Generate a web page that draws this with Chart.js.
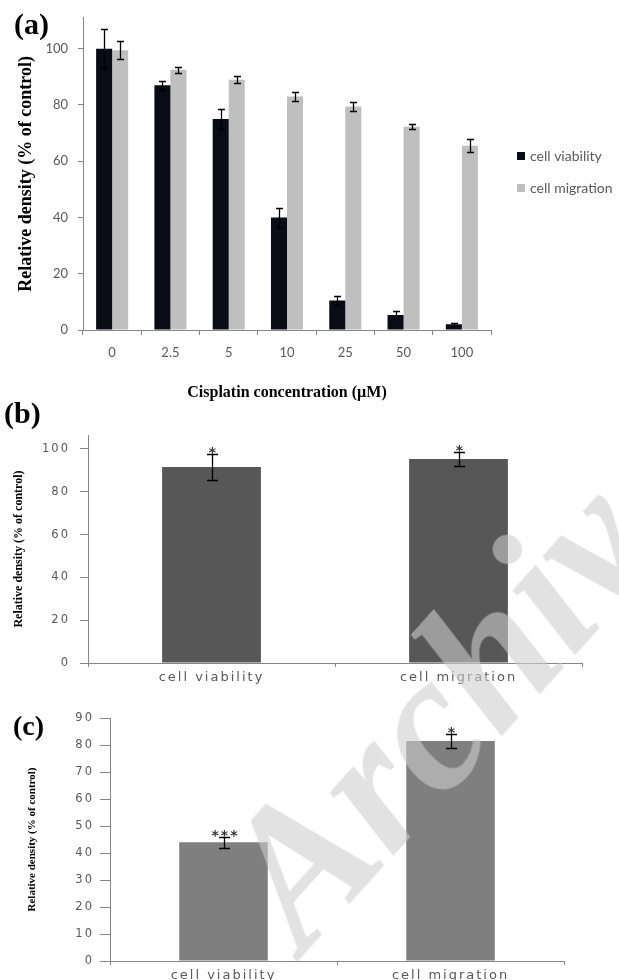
<!DOCTYPE html>
<html>
<head>
<meta charset="utf-8">
<script src="https://cdn.jsdelivr.net/npm/chart.js@4"></script>
<style>
  html, body { margin: 0; padding: 0; background: #fff; }
  body { width: 619px; height: 980px; position: relative; overflow: hidden; }
  .panel { position: absolute; left: 0; width: 619px; }
  .tag { position: absolute; font: bold 30px "Liberation Serif", "Times New Roman", serif; line-height: 30px; color: #000; }
  .watermark {
    position: absolute; left: 304px; top: 955px; white-space: nowrap;
    font: italic bold 194px "Liberation Serif", serif; line-height: 1;
    color: rgba(205, 205, 205, 0.58);
    transform-origin: 0 0; transform: rotate(-48deg) translateY(-162px);
    pointer-events: none;
  }
</style>
</head>
<body>
<div class="panel" style="top:0;height:410px"><canvas id="chartA"></canvas></div>
<div class="panel" style="top:400px;height:290px"><canvas id="chartB"></canvas></div>
<div class="panel" style="top:690px;height:300px"><canvas id="chartC"></canvas></div>
<div class="tag" style="left:14px;top:9px">(a)</div>
<div class="tag" style="left:4px;top:398px">(b)</div>
<div class="tag" style="left:13px;top:711px;font-size:28px">(c)</div>
<div class="watermark">Archive</div>

<script>
// panel (a): dose response
const doses = ['0', '2.5', '5', '10', '25', '50', '100'];
const viability = [100, 87, 75, 40, 10.5, 5.3, 2];
const viabilityErr = [7, 1.5, 3.5, 3.5, 1.5, 1.5, 0.6];
const migration = [99.5, 92.5, 89, 83, 79.5, 72.3, 65.5];
const migrationErr = [3.2, 1, 1.2, 1.5, 1.7, 1, 2.3];

// panel (b) and (c)
const groups = ['cell viability', 'cell migration'];
const valuesB = [91.6, 95.3];
const errB = [6, 3.2];
const sigB = ['*', '*'];
const valuesC = [44, 81.5];
const errC = [2, 2.6];
const sigC = ['***', '*'];

const axisGrey = '#868686';
const labelGrey = '#595959';
const yTitle = 'Relative density (% of control)';

// error bars + significance stars
const errorBars = {
  id: 'errorBars',
  afterDatasetsDraw(chart, args, opts) {
    const { ctx } = chart;
    const y = chart.scales.y;
    ctx.save();
    ctx.strokeStyle = '#000';
    ctx.lineWidth = opts.width;
    chart.data.datasets.forEach((ds, di) => {
      if (!ds.errors) return;
      chart.getDatasetMeta(di).data.forEach((bar, i) => {
        const v = ds.data[i], e = ds.errors[i];
        const top = Math.round(y.getPixelForValue(v + e)) + 0.5;
        const bot = Math.round(y.getPixelForValue(v - e)) + 0.5;
        const x = Math.round(bar.x) + 0.5;
        ctx.beginPath();
        ctx.moveTo(x, top); ctx.lineTo(x, bot);
        ctx.moveTo(x - opts.cap, top); ctx.lineTo(x + opts.cap, top);
        ctx.moveTo(x - opts.cap, bot); ctx.lineTo(x + opts.cap, bot);
        ctx.stroke();
        if (ds.marks && ds.marks[i]) {
          ctx.fillStyle = '#333';
          ctx.font = 'bold 14px "DejaVu Sans"';
          ctx.letterSpacing = '2px';
          ctx.textAlign = 'center';
          ctx.textBaseline = 'alphabetic';
          ctx.fillText(ds.marks[i], x + 1, top + 2);
          ctx.letterSpacing = '0px';
        }
      });
    });
    ctx.restore();
  }
};

// wide lettering on the tick labels of (b) and (c)
const wideTicks = {
  id: 'wideTicks',
  afterDatasetsDraw(chart, args, opts) { chart.ctx.letterSpacing = opts.spacing; },
  afterDraw(chart) { chart.ctx.letterSpacing = '0px'; }
};

// legend to the right of panel (a)
const sideLegend = {
  id: 'sideLegend',
  afterDraw(chart, args, opts) {
    const { ctx } = chart;
    ctx.save();
    ctx.font = opts.font;
    ctx.textBaseline = 'middle';
    ctx.textAlign = 'left';
    chart.data.datasets.forEach((ds, i) => {
      const y = opts.y + i * opts.gap;
      ctx.fillStyle = ds.backgroundColor;
      ctx.fillRect(opts.x, y - opts.box / 2, opts.box, opts.box);
      ctx.fillStyle = labelGrey;
      ctx.fillText(ds.label, opts.x + opts.box + 5, y);
    });
    ctx.restore();
  }
};

const fixSize = (w, h) => (scale) => {
  if (w != null) scale.width = w;
  if (h != null) scale.height = h;
};

const keepStep = (step) => (scale) => {
  scale.ticks = scale.ticks.filter(t => Math.abs(t.value / step - Math.round(t.value / step)) < 1e-6);
};

new Chart(document.getElementById('chartA'), {
  type: 'bar',
  data: {
    labels: doses,
    datasets: [
      { label: 'cell viability', data: viability, errors: viabilityErr, backgroundColor: '#0b0b16' },
      { label: 'cell migration', data: migration, errors: migrationErr, backgroundColor: '#bfbfbf' }
    ]
  },
  options: {
    responsive: true,
    maintainAspectRatio: false,
    animation: false,
    layout: { padding: { top: 15, right: 128, left: 0, bottom: 0 } },
    datasets: { bar: { categoryPercentage: 0.55, barPercentage: 1 } },
    plugins: {
      legend: { display: false },
      tooltip: { enabled: false },
      errorBars: { width: 1.3, cap: 3.5 },
      sideLegend: { x: 517, y: 156, gap: 32, box: 8, font: '14px Lato' }
    },
    scales: {
      x: {
        afterFit: fixSize(null, 80),
        grid: { drawOnChartArea: false, tickLength: 5, color: axisGrey },
        border: { color: axisGrey },
        ticks: { color: labelGrey, font: { family: 'Lato', size: 13 }, padding: 10, maxRotation: 0 },
        title: { display: true, text: 'Cisplatin concentration (\u00b5M)', color: '#000',
          font: { family: 'Liberation Serif', size: 16, weight: 'bold' }, padding: { top: 0, bottom: 8 } }
      },
      y: {
        min: 0, max: 111,
        afterFit: fixSize(83, null),
        afterBuildTicks: keepStep(20),
        grid: { drawOnChartArea: false, tickLength: 5, color: axisGrey },
        border: { color: axisGrey },
        ticks: { stepSize: 20, color: labelGrey, font: { family: 'Lato', size: 13 }, padding: 10 },
        title: { display: true, text: yTitle, color: '#000',
          font: { family: 'Liberation Serif', size: 18, weight: 'bold' }, padding: { top: 16, bottom: 0 } }
      }
    }
  },
  plugins: [errorBars, sideLegend]
});

const smallPanel = (id, values, errs, marks, color, cfg) => new Chart(document.getElementById(id), {
  type: 'bar',
  data: {
    labels: groups,
    datasets: [{ label: 'relative density', data: values, errors: errs, marks: marks, backgroundColor: color }]
  },
  options: {
    responsive: true,
    maintainAspectRatio: false,
    animation: false,
    layout: { padding: { top: cfg.top, right: cfg.right, left: 0, bottom: 0 } },
    datasets: { bar: { categoryPercentage: cfg.cat, barPercentage: 1 } },
    plugins: {
      legend: { display: false },
      tooltip: { enabled: false },
      errorBars: { width: 1.3, cap: 5.5 },
      wideTicks: { spacing: '2px' }
    },
    scales: {
      x: {
        afterFit: fixSize(null, cfg.xh),
        grid: { drawOnChartArea: false, tickLength: 4, color: axisGrey },
        border: { color: axisGrey },
        ticks: { color: labelGrey, font: { family: 'DejaVu Sans', size: 13 }, padding: 3, maxRotation: 0, z: 1 }
      },
      y: {
        min: 0, max: cfg.max,
        afterFit: fixSize(cfg.yw, null),
        afterBuildTicks: keepStep(cfg.step),
        grid: { drawOnChartArea: false, tickLength: cfg.tick, color: axisGrey },
        border: { color: axisGrey },
        ticks: { stepSize: cfg.step, color: labelGrey, font: { family: 'DejaVu Sans', size: 11.5 }, padding: cfg.pad, z: 1 },
        title: { display: true, text: yTitle, color: '#000',
          font: { family: 'Liberation Serif', size: cfg.tsize, weight: 'bold' }, padding: { top: cfg.tpad, bottom: 0 } }
      }
    }
  },
  plugins: [errorBars, wideTicks]
});

smallPanel('chartB', valuesB, errB, sigB, '#575757',
  { top: 35, right: 37, xh: 27, yw: 88, max: 106.5, step: 20, tick: 8, pad: 10, tsize: 12, tpad: 12, cat: 0.4 });
smallPanel('chartC', valuesC, errC, sigC, '#7f7f7f',
  { top: 28, right: 55, xh: 29, yw: 110, max: 90, step: 10, tick: 10, pad: 6, tsize: 11, tpad: 26, cat: 0.39 });
</script>
</body>
</html>
